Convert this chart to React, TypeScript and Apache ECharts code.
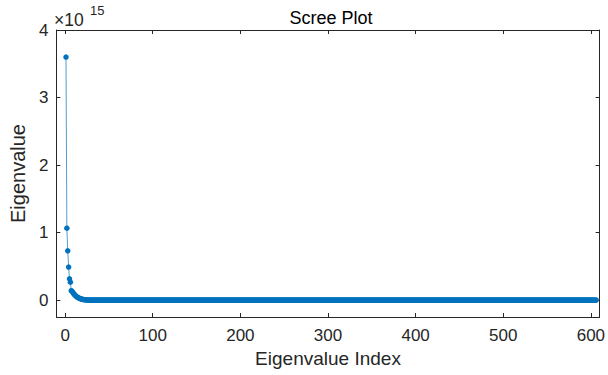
import React, { useEffect, useRef } from "react";
import * as echarts from "echarts";

// Eigenvalues in units of 1e15
const headEigenvalues: number[] = [
  3.6, 1.065, 0.73, 0.49, 0.315, 0.266, 0.14, 0.13, 0.11, 0.092,
  0.077, 0.064, 0.053, 0.044, 0.036, 0.029, 0.023, 0.018, 0.014, 0.011,
  0.008, 0.006, 0.0045, 0.0033, 0.0024, 0.0017, 0.0012, 0.0008, 0.0005, 0.0003,
];
// Remaining eigenvalues all sit on zero in the picture
const totalCount = 606;
const tailValue = 0;

const xTicks: number[] = [0, 100, 200, 300, 400, 500, 600];
const yTicks: number[] = [0, 1, 2, 3, 4];

const FONT = "'Liberation Sans', Helvetica, Arial, sans-serif";
const AX = "#262626";

export default function App() {
  const ref = useRef<HTMLDivElement>(null);
  useEffect(() => {
    if (!ref.current) return;
    const chart = echarts.init(ref.current, undefined, { renderer: "svg" });
    const values: number[] = [];
    for (let i = 0; i < totalCount; i++) {
      values.push(i < headEigenvalues.length ? headEigenvalues[i] : tailValue);
    }
    const data = values.map((v, i) => [i + 1, v]);
    const baseX = {
      type: "value" as const,
      min: -10,
      max: 610,
      splitLine: { show: false },
      axisLine: { show: true, onZero: false, lineStyle: { color: AX, width: 1 } },
      axisTick: { show: true, inside: true, length: 4, customValues: xTicks, lineStyle: { color: AX } },
    };
    const baseY = {
      type: "value" as const,
      min: -0.25,
      max: 4,
      splitLine: { show: false },
      axisLine: { show: true, onZero: false, lineStyle: { color: AX, width: 1 } },
      axisTick: { show: true, inside: true, length: 4, customValues: yTicks, lineStyle: { color: AX } },
    };
    chart.setOption({
      animation: false,
      backgroundColor: "#ffffff",
      textStyle: { fontFamily: FONT },
      title: {
        text: "Scree Plot",
        left: 326,
        textAlign: "center",
        top: 3,
        textStyle: { fontFamily: FONT, fontSize: 18, lineHeight: 20, fontWeight: "normal", color: "#000" },
      },
      grid: { left: 53, right: 8, top: 30, bottom: 58 },
      xAxis: [
        {
          ...baseX,
          position: "bottom",
          name: "Eigenvalue Index",
          nameLocation: "middle",
          nameGap: 31,
          nameTextStyle: { fontFamily: FONT, fontSize: 19, color: AX },
          axisLabel: {
            show: true,
            customValues: xTicks,
            margin: 10,
            fontFamily: FONT,
            fontSize: 17,
            color: AX,
          },
        },
        { ...baseX, position: "top", axisLabel: { show: false } },
      ],
      yAxis: [
        {
          ...baseY,
          position: "left",
          name: "Eigenvalue",
          nameLocation: "middle",
          nameGap: 20,
          nameTextStyle: { fontFamily: FONT, fontSize: 20, color: AX },
          axisLabel: {
            show: true,
            customValues: yTicks,
            margin: 8,
            fontFamily: FONT,
            fontSize: 17,
            color: AX,
          },
        },
        { ...baseY, position: "right", axisLabel: { show: false } },
      ],
      graphic: [
        {
          type: "text",
          left: 54,
          top: 11,
          style: { text: "×10", fontFamily: FONT, fontSize: 17.5, fill: AX },
        },
        {
          type: "text",
          left: 90,
          top: 4,
          style: { text: "15", fontFamily: FONT, fontSize: 13, fill: AX },
        },
      ],
      series: [
        {
          type: "line",
          data,
          xAxisIndex: 0,
          yAxisIndex: 0,
          symbol: "circle",
          symbolSize: 5.5,
          showAllSymbol: true,
          itemStyle: { color: "#0072BD" },
          lineStyle: { color: "#0072BD", width: 0.7 },
        },
      ],
    });
    return () => chart.dispose();
  }, []);
  return <div ref={ref} style={{ width: 608, height: 375, position: "absolute", left: 0, top: 0 }} />;
}
